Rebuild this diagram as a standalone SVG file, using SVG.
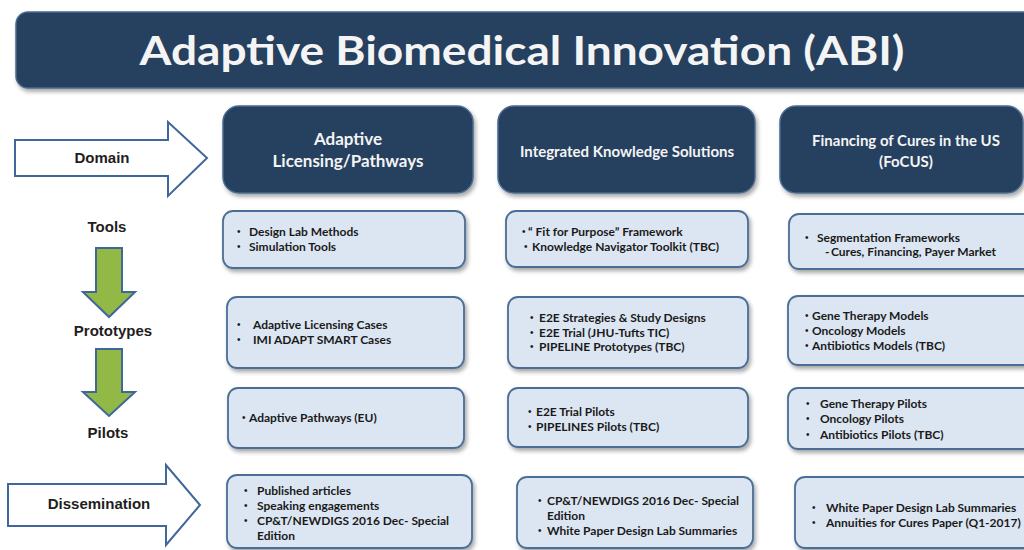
<svg xmlns="http://www.w3.org/2000/svg" width="1024" height="550" viewBox="0 0 1024 550">
<defs>
<filter id="sh" x="-10%" y="-10%" width="130%" height="140%">
<feDropShadow dx="2" dy="3" stdDeviation="2" flood-color="#000" flood-opacity="0.35"/>
</filter>
<style>
.bar{fill:#253F5F;stroke:#4A6A90;stroke-width:1.5;filter:url(#sh)}
.box{fill:#DCE6F2;stroke:#4C6E96;stroke-width:1.8;filter:url(#sh)}
.ht{font-family:Lato,"Open Sans",sans-serif;font-weight:bold;fill:#F4F4F4;text-anchor:middle}
.bt{font-family:Lato,"Open Sans",sans-serif;font-weight:bold;font-size:12px;fill:#1A1A1A}
.bu{font-family:"Liberation Sans",Arial,sans-serif;font-size:10px;fill:#1A1A1A}
.lbl{font-family:"Liberation Sans",Arial,sans-serif;font-weight:bold;font-size:15px;fill:#1E1E1E;text-anchor:middle}
.oarr{fill:#FFFFFF;stroke:#3F679A;stroke-width:2}
.garr{fill:#92B845;stroke:#3F679A;stroke-width:2}
</style>
</defs>
<rect width="1024" height="550" fill="#FFFFFF"/>

<g id="title">
<rect class="bar" x="16" y="12" width="1020" height="76" rx="12"/>
<text class="ht" x="522" y="65" font-size="41" textLength="765" lengthAdjust="spacingAndGlyphs">Adaptive Biomedical Innovation (ABI)</text>
</g>

<g id="connectors">
<polygon id="domain-arrow" class="oarr" points="15,140 168,140 168,122 207,158 168,196 168,176 15,176"/>
<polygon id="dissemination-arrow" class="oarr" points="8,484 166,484 166,465 200,505 166,545 166,526 8,526"/>
<polygon id="arrow-tools-prototypes" class="garr" points="96,248 122,248 122,292 135,292 109,317 83,292 96,292"/>
<polygon id="arrow-prototypes-pilots" class="garr" points="96,349 122,349 122,392 135,392 109,416 83,392 96,392"/>
</g>

<g id="row-labels">
<text class="lbl" x="102" y="163">Domain</text>
<text class="lbl" x="107" y="232">Tools</text>
<text class="lbl" x="113" y="336">Prototypes</text>
<text class="lbl" x="108" y="438">Pilots</text>
<text class="lbl" x="99" y="509">Dissemination</text>
</g>

<g id="header-al">
<rect class="bar" x="223" y="106" width="250" height="87" rx="16"/>
<text class="ht" x="348" y="145" font-size="17">Adaptive</text>
<text class="ht" x="348" y="167" font-size="17">Licensing/Pathways</text>
</g>
<g id="header-iks">
<rect class="bar" x="498" y="106" width="257" height="87" rx="16"/>
<text class="ht" x="627" y="157" font-size="15">Integrated Knowledge Solutions</text>
</g>
<g id="header-focus">
<rect class="bar" x="780" y="106" width="243" height="87" rx="16"/>
<text class="ht" x="906" y="146" font-size="15">Financing of Cures in the US</text>
<text class="ht" x="906" y="167" font-size="15">(FoCUS)</text>
</g>

<g id="al-tools">
<rect class="box" x="223" y="211" width="242" height="57" rx="10"/>
<text class="bu" x="237" y="235">•</text><text class="bt" x="249" y="236">Design Lab Methods</text>
<text class="bu" x="237" y="250">•</text><text class="bt" x="249" y="251">Simulation Tools</text>
</g>
<g id="al-prototypes">
<rect class="box" x="227" y="297" width="237" height="71" rx="10"/>
<text class="bu" x="237" y="328">•</text><text class="bt" x="253" y="329">Adaptive Licensing Cases</text>
<text class="bu" x="237" y="343">•</text><text class="bt" x="253" y="344">IMI ADAPT SMART Cases</text>
</g>
<g id="al-pilots">
<rect class="box" x="228" y="388" width="236" height="60" rx="10"/>
<text class="bu" x="242" y="421">•</text><text class="bt" x="249" y="422">Adaptive Pathways (EU)</text>
</g>
<g id="al-dissemination">
<rect class="box" x="227" y="475" width="245" height="73" rx="10"/>
<text class="bu" x="244" y="494">•</text><text class="bt" x="257" y="495">Published articles</text>
<text class="bu" x="244" y="509">•</text><text class="bt" x="257" y="510">Speaking engagements</text>
<text class="bu" x="244" y="524">•</text><text class="bt" x="257" y="525">CP&amp;T/NEWDIGS 2016 Dec- Special</text>
<text class="bt" x="257" y="540">Edition</text>
</g>

<g id="iks-tools">
<rect class="box" x="506" y="211" width="242" height="56" rx="10"/>
<text class="bu" x="522" y="235">•</text><text class="bt" x="528" y="236">“ Fit for Purpose” Framework</text>
<text class="bu" x="524" y="250">•</text><text class="bt" x="532" y="251">Knowledge Navigator Toolkit (TBC)</text>
</g>
<g id="iks-prototypes">
<rect class="box" x="508" y="297" width="240" height="71" rx="10"/>
<text class="bu" x="530" y="321">•</text><text class="bt" x="539" y="322">E2E Strategies &amp; Study Designs</text>
<text class="bu" x="530" y="336">•</text><text class="bt" x="539" y="337">E2E Trial (JHU-Tufts TIC)</text>
<text class="bu" x="530" y="350">•</text><text class="bt" x="539" y="351">PIPELINE Prototypes (TBC)</text>
</g>
<g id="iks-pilots">
<rect class="box" x="508" y="388" width="240" height="59" rx="10"/>
<text class="bu" x="528" y="415">•</text><text class="bt" x="536" y="416">E2E Trial  Pilots</text>
<text class="bu" x="528" y="430">•</text><text class="bt" x="536" y="431">PIPELINES Pilots (TBC)</text>
</g>
<g id="iks-dissemination">
<rect class="box" x="517" y="477" width="236" height="71" rx="10"/>
<text class="bu" x="538" y="504">•</text><text class="bt" x="547" y="505">CP&amp;T/NEWDIGS 2016 Dec- Special</text>
<text class="bt" x="547" y="520">Edition</text>
<text class="bu" x="538" y="534">•</text><text class="bt" x="547" y="535">White Paper Design Lab Summaries</text>
</g>

<g id="focus-tools">
<rect class="box" x="789" y="214" width="250" height="55" rx="10"/>
<text class="bu" x="805" y="241">•</text><text class="bt" x="817" y="242">Segmentation Frameworks</text>
<text class="bt" x="825" y="256">-</text><text class="bt" x="831" y="256">Cures, Financing, Payer Market</text>
</g>
<g id="focus-prototypes">
<rect class="box" x="788" y="296" width="250" height="69" rx="10"/>
<text class="bu" x="805" y="319">•</text><text class="bt" x="812" y="320">Gene Therapy Models</text>
<text class="bu" x="805" y="334">•</text><text class="bt" x="812" y="335">Oncology Models</text>
<text class="bu" x="805" y="349">•</text><text class="bt" x="812" y="350">Antibiotics Models (TBC)</text>
</g>
<g id="focus-pilots">
<rect class="box" x="788" y="388" width="250" height="61" rx="10"/>
<text class="bu" x="806" y="407">•</text><text class="bt" x="820" y="408">Gene Therapy Pilots</text>
<text class="bu" x="806" y="422">•</text><text class="bt" x="820" y="423">Oncology Pilots</text>
<text class="bu" x="806" y="438">•</text><text class="bt" x="820" y="439">Antibiotics Pilots (TBC)</text>
</g>
<g id="focus-dissemination">
<rect class="box" x="795" y="477" width="245" height="71" rx="10"/>
<text class="bu" x="812" y="511">•</text><text class="bt" x="826" y="512">White Paper Design Lab Summaries</text>
<text class="bu" x="812" y="526">•</text><text class="bt" x="826" y="527">Annuities for Cures Paper (Q1-2017)</text>
</g>
</svg>
